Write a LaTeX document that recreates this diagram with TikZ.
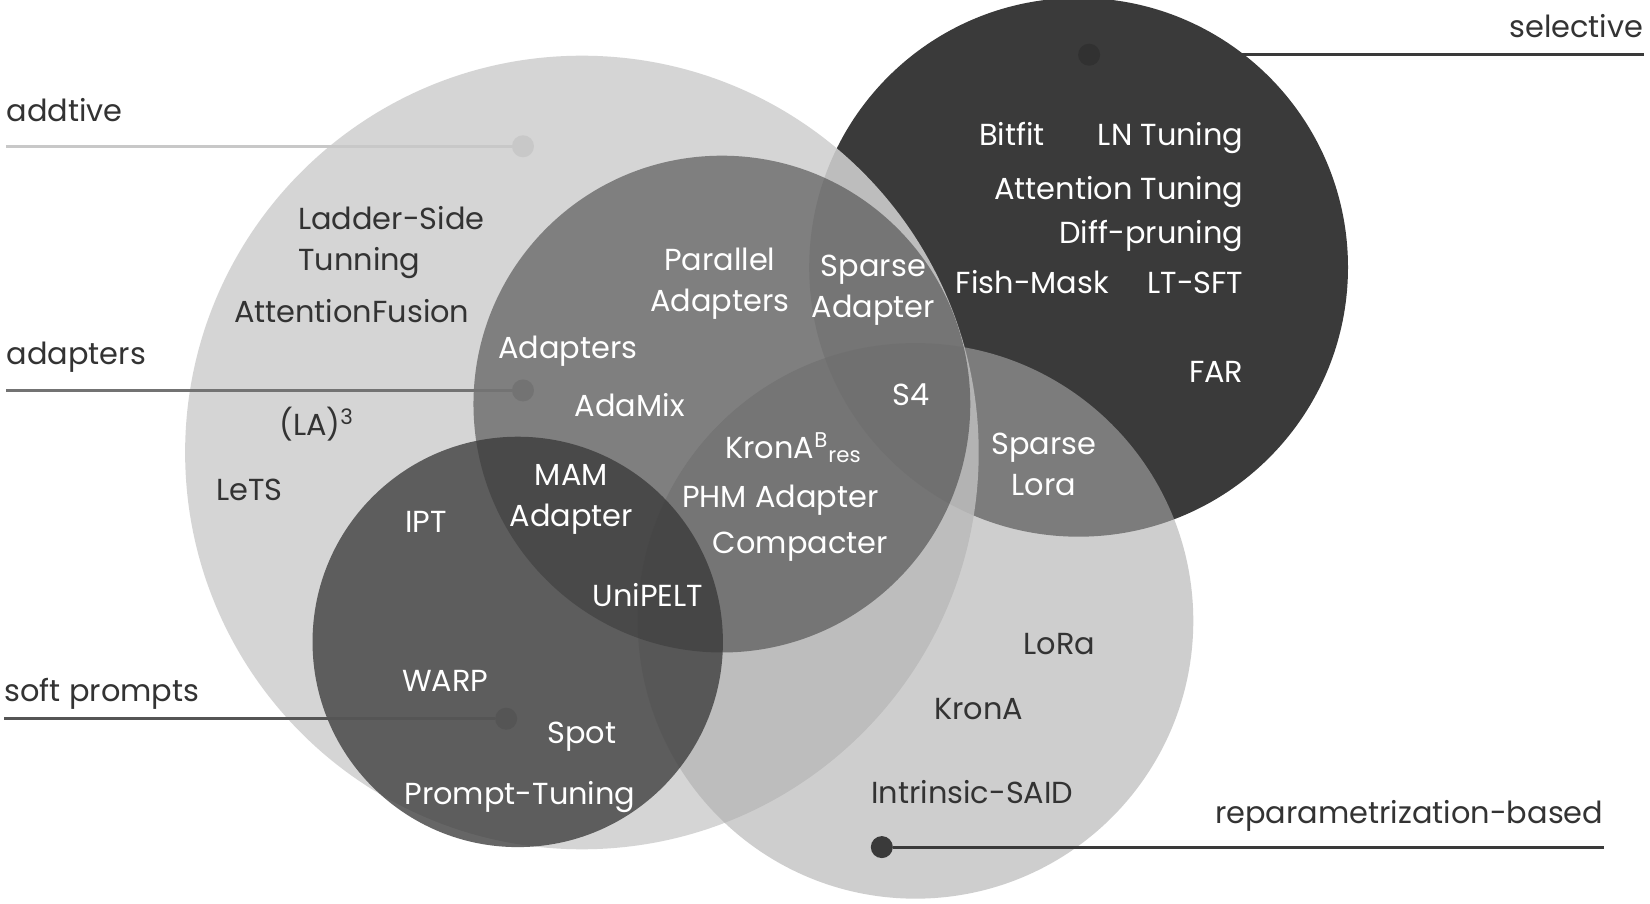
\documentclass[tikz,border=0pt]{standalone}
\usepackage{fontspec}
\setmainfont{Poppins}
\definecolor{txtdark}{HTML}{333333}
\definecolor{selfill}{HTML}{3A3A3A}
\definecolor{addfill}{HTML}{D0D0D0}
\definecolor{repfill}{HTML}{ACACAC}
\definecolor{adpfill}{HTML}{414141}
\definecolor{softfill}{HTML}{393939}
\definecolor{addline}{HTML}{C8C8C8}
\definecolor{adpline}{HTML}{737373}
\definecolor{softline}{HTML}{555555}
\definecolor{darkline}{HTML}{3A3A3A}
\begin{document}
\begin{tikzpicture}[x=0.52615pt, y=-0.52615pt,
  mlbl/.style={font=\fontsize{15.2}{20.5}\selectfont, inner sep=0pt, text=txtdark, yshift=-0.8pt},
  lbl/.style={mlbl, text height=10.6pt, text depth=0pt},
  wlbl/.style={lbl, text=white},
  wmlbl/.style={mlbl, text=white, align=center},
  dotnode/.style={circle, inner sep=0pt, minimum size=11pt},
  leader/.style={line width=1.6pt}
]
\useasboundingbox (0,0) rectangle (1568,859);
\fill[white] (0,0) rectangle (1568,859);
% circles
\fill[selfill] (1025,254) circle[radius=134.7pt];
\fill[addfill, opacity=0.878] (553,430) circle[radius=198.4pt];
\fill[repfill, opacity=0.58] (870,590) circle[radius=138.9pt];
\fill[adpfill, opacity=0.58] (686,384) circle[radius=124.2pt];
\fill[softfill, opacity=0.767] (492,610) circle[radius=102.6pt];

% leader dots and lines
\node[dotnode, fill=addline] (dadd) at (497,139) {};
\coordinate (eadd) at (6,139);
\draw[leader, addline] (eadd) -- (dadd);

\node[dotnode, fill=adpline] (dadp) at (497,371) {};
\coordinate (eadp) at (6,371);
\draw[leader, adpline] (eadp) -- (dadp);

\node[dotnode, fill=softline] (dsoft) at (481,683) {};
\coordinate (esoft) at (4,683);
\draw[leader, softline] (esoft) -- (dsoft);

\node[dotnode, fill=darkline!85!black] (dsel) at (1035,52) {};
\coordinate (esel) at (1562,52);
\draw[leader, darkline] (dsel) -- (esel);

\node[dotnode, fill=darkline] (drep) at (838,805) {};
\coordinate (erep) at (1524,805);
\draw[leader, darkline] (drep) -- (erep);

% group labels
\node[lbl, anchor=east] (tsel) at (1562,24) {selective};
\node[lbl, anchor=west] (tadd) at (6,104) {addtive};
\node[lbl, anchor=west] (tadp) at (6,335) {adapters};
\node[lbl, anchor=west] (tsoft) at (4,655) {soft prompts};
\node[lbl, anchor=east] (trep) at (1524,771) {reparametrization-based};

% additive-only
\node[mlbl, anchor=west, align=left] (ladder) at (283,229) {Ladder-Side\\Tunning};
\node[lbl, anchor=west] (attfus) at (222,295) {AttentionFusion};
\node[lbl, anchor=west] (la3) at (265,402) {(LA)\textsuperscript{3}};
\node[lbl, anchor=west] (lets) at (205,464) {LeTS};

% adapters
\node[wlbl, anchor=west] (adapters) at (473,329) {Adapters};
\node[wlbl, anchor=west] (adamix) at (546,384) {AdaMix};
\node[wmlbl] (parallel) at (684,268) {Parallel\\Adapters};
\node[wmlbl] (sparseadp) at (830,274) {Sparse\\Adapter};
\node[wlbl] (s4) at (866,374) {S4};
\node[wlbl, anchor=west] (krona) at (689,424) {KronA\textsuperscript{B}\textsubscript{res}};
\node[wlbl, anchor=west] (phm) at (648,471) {PHM Adapter};
\node[wlbl, anchor=west] (compacter) at (677,514) {Compacter};
\node[wmlbl] (mam) at (543,473) {MAM\\Adapter};
\node[wlbl, anchor=west] (unipelt) at (563,565) {UniPELT};

% soft prompts
\node[wlbl] (ipt) at (405,494) {IPT};
\node[wlbl] (warp) at (423,646) {WARP};
\node[wlbl] (spot) at (553,695) {Spot};
\node[wlbl, anchor=west] (prompttuning) at (384,753) {Prompt-Tuning};

% selective
\node[wlbl, anchor=west] (bitfit) at (930,127) {Bitfit};
\node[wlbl, anchor=east] (lntuning) at (1182,127) {LN Tuning};
\node[wlbl, anchor=east] (atttuning) at (1182,178) {Attention Tuning};
\node[wlbl, anchor=east] (diffpruning) at (1182,220) {Diff-pruning};
\node[wlbl, anchor=west] (fishmask) at (908,267) {Fish-Mask};
\node[wlbl, anchor=east] (ltsft) at (1182,267) {LT-SFT};
\node[wlbl, anchor=east] (far) at (1182,352) {FAR};
\node[wmlbl] (sparselora) at (992,440) {Sparse\\Lora};

% reparametrization
\node[lbl] (lora) at (1007,610) {LoRa};
\node[lbl] (kronaplain) at (930,672) {KronA};
\node[lbl] (intrinsic) at (924,752) {Intrinsic-SAID};
\end{tikzpicture}
\end{document}
